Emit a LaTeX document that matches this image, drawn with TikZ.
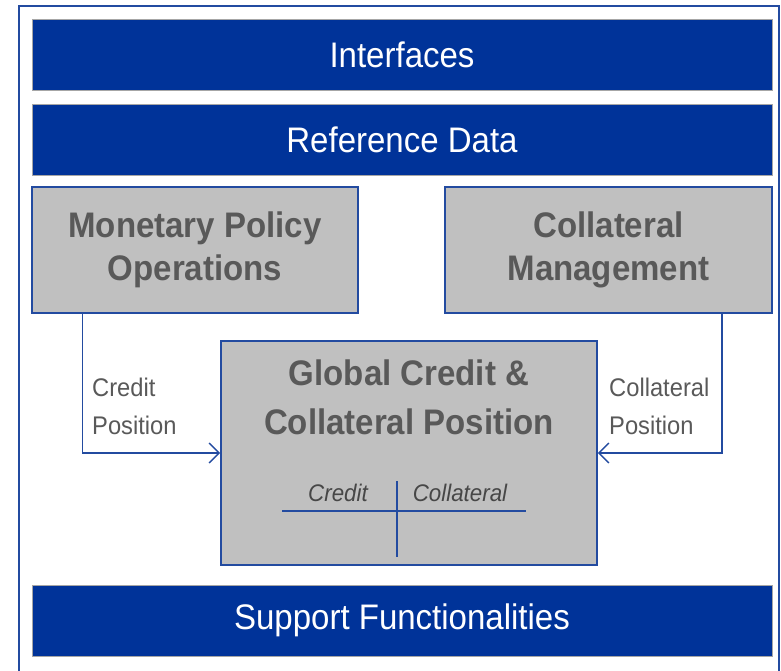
\documentclass[tikz,border=0pt]{standalone}
\usepackage{fontspec}
\setmainfont[FakeStretch=0.93]{Liberation Sans}
\usepackage{xcolor}
\definecolor{barblue}{RGB}{0,51,153}
\definecolor{edgeblue}{RGB}{35,75,160}
\definecolor{boxgrey}{RGB}{192,192,192}
\definecolor{textgrey}{RGB}{89,89,89}
\usetikzlibrary{arrows.meta}
\usetikzlibrary{positioning}
\usetikzlibrary{calc}

\tikzset{
  bar/.style={fill=barblue, draw=gray!70, line width=0.8pt, inner sep=0pt,
    minimum width=740pt, minimum height=71pt, text=white,
    font=\fontsize{35.5}{40}\selectfont},
  module/.style={fill=boxgrey, draw=edgeblue, line width=1.6pt, inner sep=0pt,
    text=textgrey, align=center, font=\fontsize{35.5}{43}\selectfont\bfseries},
  flow/.style={draw=edgeblue, line width=1.4pt,
    -{Straight Barb[length=10pt,width=20pt,line width=1.4pt]}},
  flowlabel/.style={text=textgrey, align=left, inner sep=0pt, anchor=north west,
    font=\fontsize{25.5}{38}\selectfont},
  tcol/.style={text=textgrey!80!black, inner sep=0pt,
    font=\fontsize{24}{28}\selectfont\itshape},
}

\begin{document}
\begin{tikzpicture}[x=1pt, y=-1pt]
  \useasboundingbox (0,0) rectangle (781,671);

  %frame
  \draw[edgeblue, line width=1.2pt] (19,671) |- (779,6) -- (779,671);

  %bars
  \node[bar] (intf) at (402,54.5) {Interfaces};
  \node[bar] (refdata) at (402,139.5) {Reference Data};
  \node[bar] (support) at (402,620.5) {Support Functionalities};

  %modules
  \node[module, minimum width=326pt, minimum height=126pt] (mpo) at (195,250)
    {Monetary Policy\\Operations};
  \node[module, minimum width=327pt, minimum height=126pt] (colmgmt) at (608.5,250)
    {Collateral\\Management};
  \node[module, minimum width=376pt, minimum height=224pt] (gcp) at (409,453) {};
  \node[text=textgrey, align=center, inner sep=0pt,
    font=\fontsize{35.5}{49}\selectfont\bfseries, below=19pt of gcp.north] (gcptitle)
    {Global Credit \&\\Collateral Position};

  %T account
  \coordinate (tl) at (282,511);
  \coordinate (tr) at (526,511);
  \coordinate (tt) at (397,481);
  \coordinate (tb) at (397,557);
  \draw[edgeblue, line width=1.4pt] (tl) -- (tr);
  \draw[edgeblue, line width=1.4pt] (tt) -- (tb);
  \node[tcol] (tcredit) at (338,493) {Credit};
  \node[tcol] (tcoll) at (460,493) {Collateral};

  %flows
  \draw[flow] ([xshift=51pt]mpo.south west) |- (gcp.west);
  \draw[flow] ([xshift=-51pt]colmgmt.south east) |- (gcp.east);
  \node[flowlabel] (crpos) at (92,378) {Credit\\Position};
  \node[flowlabel] (colpos) at (609,378) {Collateral\\Position};
\end{tikzpicture}
\end{document}
